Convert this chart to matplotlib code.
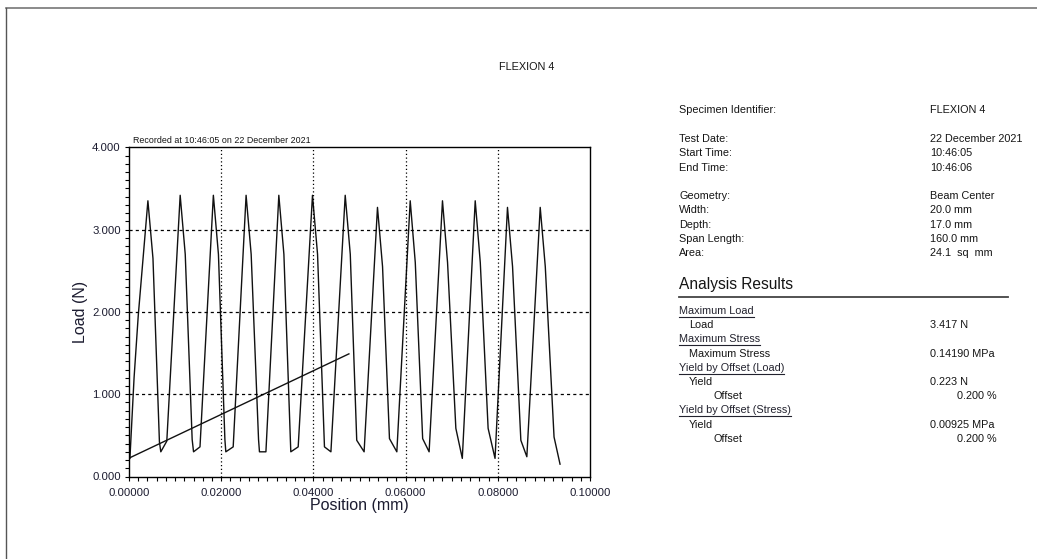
import matplotlib.pyplot as plt
from matplotlib.lines import Line2D
from matplotlib.ticker import MultipleLocator, FormatStrFormatter

plt.rcParams['font.family'] = ['Liberation Sans', 'DejaVu Sans']

# Load / position trace of the cyclic flexion test
position_mm = [0.0002, 0.0011, 0.0020, 0.0041,
               0.0052, 0.0066, 0.0069, 0.0082, 0.0111,
               0.0122, 0.0137, 0.0140, 0.0154, 0.0183,
               0.0194, 0.0208, 0.0210, 0.0226, 0.0254,
               0.0265, 0.0281, 0.0283, 0.0297, 0.0325,
               0.0336, 0.0350, 0.0351, 0.0367, 0.0398,
               0.0409, 0.0424, 0.0438, 0.0469,
               0.0480, 0.0494, 0.0510, 0.0539,
               0.0550, 0.0565, 0.0581, 0.0610,
               0.0621, 0.0637, 0.0651, 0.0680,
               0.0691, 0.0709, 0.0723, 0.0751,
               0.0762, 0.0779, 0.0794, 0.0821,
               0.0832, 0.0850, 0.0863, 0.0892,
               0.0903, 0.0922, 0.0935]
load_n = [0.22, 1.20, 1.95, 3.35,
          2.65, 0.42, 0.30, 0.43, 3.417,
          2.70, 0.45, 0.30, 0.36, 3.417,
          2.70, 0.45, 0.30, 0.36, 3.417,
          2.70, 0.45, 0.30, 0.30, 3.417,
          2.70, 0.45, 0.30, 0.36, 3.417,
          2.70, 0.36, 0.30, 3.417,
          2.70, 0.44, 0.30, 3.27,
          2.55, 0.46, 0.30, 3.35,
          2.60, 0.46, 0.30, 3.35,
          2.60, 0.585, 0.22, 3.35,
          2.60, 0.585, 0.22, 3.27,
          2.55, 0.44, 0.24, 3.27,
          2.55, 0.48, 0.15]

# 0.2 % offset line used for the yield calculation
offset_x = [0.0, 0.0477]
offset_y = [0.223, 1.49]

info_labels = ['Specimen Identifier:', 'Test Date:', 'Start Time:', 'End Time:',
               'Geometry:', 'Width:', 'Depth:', 'Span Length:', 'Area:']
info_values = ['FLEXION 4', '22 December 2021', '10:46:05', '10:46:06',
               'Beam Center', '20.0 mm', '17.0 mm', '160.0 mm', '24.1  sq  mm']
info_rows = [110, 139, 153, 168, 196, 210, 225, 239, 253]

# (text, value, kind) - kind: h = underlined heading, 1 = item, 2 = sub item
results = [('Maximum Load', '', 'h'),
           ('Load', '3.417 N', '1'),
           ('Maximum Stress', '', 'h'),
           ('Maximum Stress', '0.14190 MPa', '1'),
           ('Yield by Offset (Load)', '', 'h'),
           ('Yield', '0.223 N', '1'),
           ('Offset', '0.200 %', '2'),
           ('Yield by Offset (Stress)', '', 'h'),
           ('Yield', '0.00925 MPa', '1'),
           ('Offset', '0.200 %', '2')]
result_rows = [311, 325, 339, 354, 368, 382, 396, 410, 425, 439]

W, H = 1037, 559
fig = plt.figure(figsize=(W / 100, H / 100), dpi=100)
fig.patch.set_facecolor('white')


def fx(px):
    return px / W


def fy(py):
    return 1 - py / H


txt = '#151515'

ax = fig.add_axes([fx(129), fy(476.5), fx(590) - fx(129), fy(147.3) - fy(476.5)])
ax.plot(position_mm, load_n, color='#111111', lw=1.0)
ax.plot(offset_x, offset_y, color='#111111', lw=1.0)

ax.set_xlim(0, 0.1)
ax.set_ylim(0, 4)
ax.xaxis.set_major_locator(MultipleLocator(0.02))
ax.xaxis.set_minor_locator(MultipleLocator(0.002))
ax.yaxis.set_major_locator(MultipleLocator(1))
ax.yaxis.set_minor_locator(MultipleLocator(0.1))
ax.xaxis.set_major_formatter(FormatStrFormatter('%.5f'))
ax.yaxis.set_major_formatter(FormatStrFormatter('%.3f'))
ax.tick_params(which='both', direction='out', length=3, width=0.8,
               labelsize=8.2, labelcolor='#1c1c30')
ax.tick_params(axis='x', pad=5)
ax.tick_params(axis='y', pad=3)
for s in ax.spines.values():
    s.set_linewidth(1.0)
    s.set_color('black')

for gx in [0.02, 0.04, 0.06, 0.08]:
    ax.axvline(gx, color='black', lw=0.9, ls=(0, (1, 2)))
for gy in [1, 2, 3]:
    ax.axhline(gy, color='black', lw=0.9, ls=(0, (2.5, 2.5)))

ax.set_xlabel('Position (mm)', fontsize=11.5, color='#1c1c30', labelpad=0)
ax.set_ylabel('Load (N)', fontsize=11.5, color='#1c1c30', labelpad=3)

fig.text(fx(133), fy(143), 'Recorded at 10:46:05 on 22 December 2021',
         fontsize=6.4, color=txt, va='baseline')
fig.text(fx(527), fy(67), 'FLEXION 4', fontsize=7.8, color=txt,
         ha='center', va='center')

for lab, val, row in zip(info_labels, info_values, info_rows):
    fig.text(fx(679), fy(row), lab, fontsize=7.8, color=txt, va='center')
    fig.text(fx(930), fy(row), val, fontsize=7.8, color=txt, va='center')

fig.text(fx(679), fy(285), 'Analysis Results', fontsize=11.2, color=txt, va='center')
fig.add_artist(Line2D([fx(679), fx(1008)], [fy(297), fy(297)], color='#444444', lw=1.3))

headings = []
for (lab, val, kind), row in zip(results, result_rows):
    x0 = {'h': 679, '1': 689, '2': 714}[kind]
    t = fig.text(fx(x0), fy(row), lab, fontsize=7.8, color=txt if kind != 'h' else '#22222e',
                 va='center')
    if kind == 'h':
        headings.append((t, row))
    if val:
        if kind == '2':
            fig.text(fx(997), fy(row), val, fontsize=7.8, color=txt, va='center', ha='right')
        else:
            fig.text(fx(930), fy(row), val, fontsize=7.8, color=txt, va='center')

# underline the result headings
fig.canvas.draw()
r = fig.canvas.get_renderer()
for t, row in headings:
    bb = t.get_window_extent(r)
    fig.add_artist(Line2D([bb.x0 / W, bb.x1 / W], [fy(row + 6), fy(row + 6)],
                          color='#22222e', lw=0.8))

# page border
fig.add_artist(Line2D([fx(6), 1], [fy(8), fy(8)], color='#777777', lw=1.2))
fig.add_artist(Line2D([fx(6), fx(6)], [fy(8), 0], color='#555555', lw=1.0))

fig.savefig('out.png', dpi=100)
